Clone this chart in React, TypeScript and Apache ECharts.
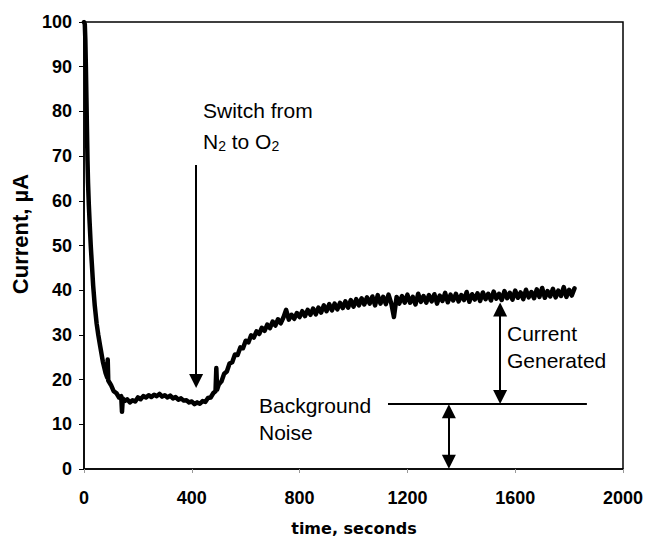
import React, { useEffect, useRef } from "react";
import * as echarts from "echarts";

// time (s) and current (µA)
const timeSec = [
  0, 3, 5, 7, 9, 11, 13, 15, 18, 21, 25, 29, 34, 40, 47, 53, 60, 70, 80, 86, 88, 90,
  100, 110, 120, 130, 138, 141, 144, 150, 160, 170, 180, 190,
  200, 210, 220, 230, 240, 250, 260, 270, 280, 290, 300, 310, 320, 330, 340, 350, 360, 370, 380, 390,
  400, 410, 420, 430, 440, 450, 460, 470, 480, 488, 491, 494,
  500, 510, 520, 530, 540, 550, 560, 570, 580, 590, 600, 610, 620, 630, 640, 650, 660, 670, 680, 690,
  700, 710, 720, 730, 740, 750, 760, 770, 780, 790, 800, 810, 820, 830, 840, 850, 860, 870, 880, 890,
  900, 910, 920, 930, 940, 950, 960, 970, 980, 990, 1000, 1010, 1020, 1030, 1040, 1050, 1060, 1070, 1080, 1090,
  1100, 1110, 1120, 1130, 1140, 1150, 1160, 1170, 1180, 1190, 1200, 1210, 1220, 1230, 1240, 1250, 1260, 1270, 1280, 1290,
  1300, 1310, 1320, 1330, 1340, 1350, 1360, 1370, 1380, 1390, 1400, 1410, 1420, 1430, 1440, 1450, 1460, 1470, 1480, 1490,
  1500, 1510, 1520, 1530, 1540, 1550, 1560, 1570, 1580, 1590, 1600, 1610, 1620, 1630, 1640, 1650, 1660, 1670, 1680, 1690,
  1700, 1710, 1720, 1730, 1740, 1750, 1760, 1770, 1780, 1790, 1800, 1810, 1820,
];
const currentUA = [
  100, 99.5, 96, 90, 83, 76, 69, 64, 59, 55, 50, 46, 41, 36.5, 32.5, 30, 27.5, 24, 21.5, 20.5, 24.5, 19.8,
  18.8, 17.4, 17.0, 16.0, 16.3, 12.8, 15.8, 15.2, 15.6, 14.9, 15.4, 15.1,
  16.0, 15.6, 16.3, 16.0, 16.5, 16.1, 16.6, 16.3, 16.8, 16.2, 16.5, 16.0, 16.4, 15.8, 16.1, 15.5, 15.8, 15.3, 15.4, 14.9,
  15.1, 14.5, 14.9, 14.6, 15.2, 15.0, 15.9, 16.0, 17.0, 17.4, 22.6, 17.8,
  18.9, 19.6, 21.3, 21.8, 23.6, 23.9, 25.6, 25.5, 27.2, 27.0, 28.7, 28.3, 29.9, 29.4, 30.8, 30.2, 31.6, 30.9, 32.3, 31.5,
  33.0, 32.1, 33.5, 32.6, 33.9, 35.6, 33.4, 34.5, 33.6, 34.9, 34.0, 35.3, 34.2, 35.6, 34.5, 35.9, 34.6, 36.1, 35.0, 36.6,
  35.3, 36.9, 35.5, 37.0, 35.7, 37.2, 36.0, 37.5, 36.1, 37.8, 36.3, 38.0, 36.6, 38.2, 36.8, 38.4, 37.0, 38.6, 36.6, 38.9,
  37.0, 38.5, 36.9, 39.0, 37.1, 34.0, 38.5, 37.0, 38.7, 37.2, 39.0, 37.2, 38.5, 36.8, 39.2, 37.4, 38.7, 37.2, 38.9, 37.5,
  39.1, 37.0, 38.8, 37.6, 39.4, 37.3, 39.0, 37.7, 39.2, 37.5, 38.9, 37.8, 39.6, 37.4, 39.1, 37.9, 39.3, 37.6, 39.5, 38.0,
  39.2, 37.7, 39.7, 38.1, 39.2, 37.8, 39.8, 38.2, 39.4, 37.9, 39.9, 38.3, 39.5, 38.0, 40.1, 38.4, 39.6, 38.2, 40.2, 38.5,
  40.5, 38.3, 39.8, 38.6, 40.3, 38.4, 39.9, 38.7, 40.7, 38.5, 40.1, 38.8, 40.4,
];

// annotation anchors (data coordinates)
const switchArrowT = 416;
const switchArrowFromTo = [68, 19.7];
const baselineLevel = 14.5;
const baselineSpan = [1128, 1866];
const noiseArrowT = 1354;
const noiseArrowEnds = [12.9, 1.6];
const currentArrowT = 1544;
const currentArrowEnds = [35.7, 16.1];

const FONT = "'Liberation Sans', Arial, sans-serif";

export default function App() {
  const ref = useRef<HTMLDivElement>(null);
  useEffect(() => {
    if (!ref.current) return;
    const chart = echarts.init(ref.current, undefined, { renderer: "svg" });
    const arrowSize = [14, 14];
    chart.setOption({
      animation: false,
      backgroundColor: "#fff",
      grid: {
        left: 84, right: 24, top: 22, bottom: 69,
        show: true, borderColor: "#000", borderWidth: 1.5, backgroundColor: "transparent",
      },
      xAxis: {
        type: "value", min: 0, max: 2000, interval: 400,
        axisLine: { lineStyle: { color: "#000", width: 1.5 } },
        axisTick: { show: true, inside: false, length: 4, lineStyle: { color: "#999", width: 1 } },
        splitLine: { show: false },
        axisLabel: {
          color: "#000", fontFamily: FONT, fontWeight: "bold", fontSize: 18, margin: 20,
          formatter: (v: number) => String(v),
        },
      },
      yAxis: {
        type: "value", min: 0, max: 100, interval: 10,
        axisLine: { show: true, lineStyle: { color: "#000", width: 1.5 } },
        axisTick: { show: true, inside: false, length: 5, lineStyle: { color: "#000", width: 1 } },
        splitLine: { show: false },
        axisLabel: { color: "#000", fontFamily: FONT, fontWeight: "bold", fontSize: 18, margin: 12 },
      },
      series: [
        {
          type: "line",
          data: timeSec.map((t, i) => [t, currentUA[i]]),
          showSymbol: false,
          lineStyle: { color: "#000", width: 4.5, join: "round", cap: "round" },
          clip: true,
          markLine: {
            silent: true,
            symbolSize: arrowSize,
            label: { show: false },
            lineStyle: { color: "#000", width: 2, type: "solid" },
            data: [
              [
                { coord: [switchArrowT, switchArrowFromTo[0]], symbol: "none" },
                { coord: [switchArrowT, switchArrowFromTo[1]], symbol: "triangle" },
              ],
              [
                { coord: [baselineSpan[0], baselineLevel], symbol: "none" },
                { coord: [baselineSpan[1], baselineLevel], symbol: "none" },
              ],
              [
                { coord: [noiseArrowT, noiseArrowEnds[0]], symbol: "triangle" },
                { coord: [noiseArrowT, noiseArrowEnds[1]], symbol: "triangle" },
              ],
              [
                { coord: [currentArrowT, currentArrowEnds[0]], symbol: "triangle" },
                { coord: [currentArrowT, currentArrowEnds[1]], symbol: "triangle" },
              ],
            ],
          },
        },
      ],
      graphic: [
        {
          type: "text", x: 203, y: 110,
          style: { text: "Switch from", font: `21px ${FONT}`, fill: "#000", align: "left", verticalAlign: "middle" },
        },
        {
          type: "text", x: 203, y: 141,
          style: {
            text: "{a|N}{s|2}{a| to O}{s|2}",
            fill: "#000", align: "left", verticalAlign: "middle",
            rich: {
              a: { fontFamily: FONT, fontSize: 21, fill: "#000", lineHeight: 24 },
              s: { fontFamily: FONT, fontSize: 14, fill: "#000", padding: [10, 0, 0, 0], lineHeight: 24 },
            },
          },
        },
        {
          type: "text", x: 259, y: 405,
          style: { text: "Background", font: `21px ${FONT}`, fill: "#000", align: "left", verticalAlign: "middle" },
        },
        {
          type: "text", x: 259, y: 432,
          style: { text: "Noise", font: `21px ${FONT}`, fill: "#000", align: "left", verticalAlign: "middle" },
        },
        {
          type: "text", x: 507, y: 333,
          style: { text: "Current", font: `21px ${FONT}`, fill: "#000", align: "left", verticalAlign: "middle" },
        },
        {
          type: "text", x: 507, y: 360,
          style: { text: "Generated", font: `21px ${FONT}`, fill: "#000", align: "left", verticalAlign: "middle" },
        },
        {
          type: "text", x: 354, y: 528,
          style: { text: "time, seconds", font: `bold 16px 'DejaVu Sans', sans-serif`, fill: "#000", align: "center", verticalAlign: "middle" },
        },
        {
          type: "text", x: 20, y: 234, rotation: Math.PI / 2,
          style: { text: "Current, µA", font: `bold 22px ${FONT}`, fill: "#000", align: "center", verticalAlign: "middle" },
        },
      ],
    });
    return () => chart.dispose();
  }, []);
  return <div ref={ref} style={{ position: "fixed", left: 0, top: 0, width: 647, height: 538 }} />;
}
